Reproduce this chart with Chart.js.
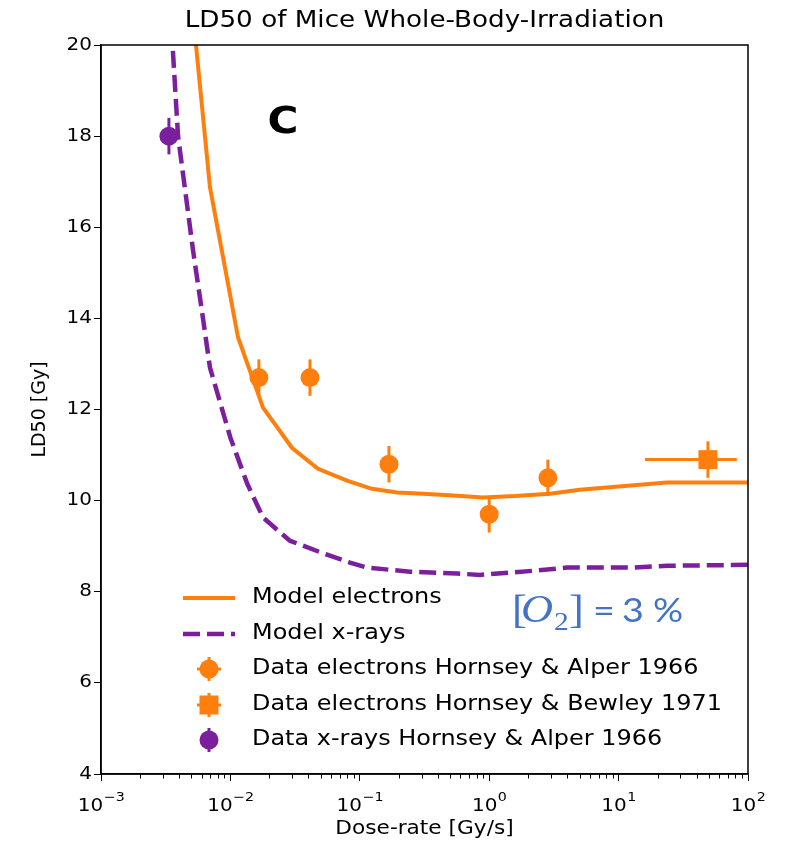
<!DOCTYPE html>
<html><head><meta charset="utf-8">
<script src="https://cdn.jsdelivr.net/npm/chart.js@4"></script>
<style>html,body{margin:0;padding:0;background:#fff;} #wrap{width:790px;height:843px;}</style>
</head><body><div id="wrap"><canvas id="c" width="790" height="843"></canvas></div>
<script>
// ---- data ----
const doseElectronModel = [0.00437, 0.00695, 0.01146, 0.01786, 0.0299, 0.0475, 0.0796, 0.124, 0.194, 0.308, 0.525, 0.895, 1.585, 2.95, 5.01, 14.6, 23.7, 100];
const ld50ElectronModel = [22.7, 16.88, 13.58, 12.04, 11.16, 10.70, 10.44, 10.26, 10.18, 10.15, 10.11, 10.07, 10.10, 10.15, 10.24, 10.35, 10.40, 10.40];
const doseXrayModel = [0.00316, 0.00394, 0.00514, 0.00614, 0.00695, 0.0100, 0.0135, 0.01786, 0.0288, 0.0525, 0.0839, 0.1138, 0.244, 0.564, 0.849, 2.18, 3.98, 12.9, 23.7, 100];
const ld50XrayModel = [22.5, 18.0, 15.5, 14.0, 12.92, 11.38, 10.37, 9.63, 9.12, 8.84, 8.64, 8.53, 8.44, 8.40, 8.37, 8.46, 8.53, 8.53, 8.57, 8.59];
const doseAlper = [0.0166, 0.0412, 0.168, 1.0, 2.84];
const ld50Alper = [12.7, 12.7, 10.8, 9.7, 10.5];
const yErrAlper = [0.4, 0.4, 0.4, 0.4, 0.4];
const doseBewley = [49];
const ld50Bewley = [10.9];
const yErrBewley = [0.4];
const xErrBewley = [33];
const doseXrayData = [0.00335];
const ld50XrayData = [18.0];
const yErrXrayData = [0.4];
const xTicks = [0.001, 0.01, 0.1, 1, 10, 100];
const xTickExponents = ['\u22123', '\u22122', '\u22121', '0', '1', '2'];
const yTicks = [4, 6, 8, 10, 12, 14, 16, 18, 20];
const legendLabels = ['Model electrons', 'Model x-rays', 'Data electrons Hornsey & Alper 1966', 'Data electrons Hornsey & Bewley 1971', 'Data x-rays Hornsey & Alper 1966'];
const titleText = 'LD50 of Mice Whole-Body-Irradiation';
const xTitleText = 'Dose-rate [Gy/s]';
const yTitleText = 'LD50 [Gy]';

const ORANGE = '#ff7f0e';
const PURPLE = '#7b1f9d';
const BLUE = '#4472c4';
const FONT = "'DejaVu Sans', sans-serif";
const SX = 1.14; // horizontal stretch of the reference's lettering

const pts = (xs, ys) => xs.map((x, i) => ({x: x, y: ys[i]}));

function sText(ctx, t, x, y, font, align, base, color) {
  ctx.save();
  ctx.font = font; ctx.textAlign = align || 'left'; ctx.textBaseline = base || 'alphabetic';
  ctx.fillStyle = color || '#000';
  ctx.translate(x, y); ctx.scale(SX, 1);
  ctx.fillText(t, 0, 0);
  ctx.restore();
}
function sWidth(ctx, t, font) { ctx.save(); ctx.font = font; const w = ctx.measureText(t).width * SX; ctx.restore(); return w; }

const errorBars = {
  id: 'errorBars',
  afterDatasetsDraw(chart) {
    const {ctx, chartArea: a, scales: {x, y}} = chart;
    ctx.save();
    ctx.beginPath(); ctx.rect(a.left, a.top, a.width, a.height); ctx.clip();
    chart.data.datasets.forEach(ds => {
      if (!ds.errY && !ds.errX) return;
      ctx.strokeStyle = ds.borderColor; ctx.lineWidth = 3;
      ds.data.forEach((p, i) => {
        const px = x.getPixelForValue(p.x), py = y.getPixelForValue(p.y);
        if (ds.errY) {
          ctx.beginPath();
          ctx.moveTo(px, y.getPixelForValue(p.y - ds.errY[i]));
          ctx.lineTo(px, y.getPixelForValue(p.y + ds.errY[i]));
          ctx.stroke();
        }
        if (ds.errX) {
          ctx.beginPath();
          ctx.moveTo(x.getPixelForValue(p.x - ds.errX[i]), py);
          ctx.lineTo(x.getPixelForValue(p.x + ds.errX[i]), py);
          ctx.stroke();
        }
      });
    });
    ctx.restore();
  }
};

const decorations = {
  id: 'decorations',
  afterDraw(chart) {
    const {ctx, chartArea: a, scales: {x, y}} = chart;
    ctx.save();
    // frame
    ctx.strokeStyle = '#000'; ctx.lineWidth = 1.5;
    ctx.strokeRect(a.left, a.top, a.width, a.height);
    // minor ticks
    ctx.lineWidth = 1;
    for (let k = -3; k < 2; k++) {
      for (let m = 2; m <= 9; m++) {
        const px = Math.round(x.getPixelForValue(m * Math.pow(10, k))) + 0.5;
        ctx.beginPath(); ctx.moveTo(px, a.bottom); ctx.lineTo(px, a.bottom + 4.5); ctx.stroke();
      }
    }
    // tick labels
    const fTick = '17.5px ' + FONT, fSup = '12.5px ' + FONT;
    yTicks.forEach(v => sText(ctx, String(v), 92, y.getPixelForValue(v), fTick, 'right', 'middle'));
    xTicks.forEach((v, i) => {
      const w1 = sWidth(ctx, '10', fTick), w2 = sWidth(ctx, xTickExponents[i], fSup);
      const x0 = x.getPixelForValue(v) - (w1 + w2) / 2;
      sText(ctx, '10', x0, 811, fTick);
      sText(ctx, xTickExponents[i], x0 + w1 + 0.5, 801, fSup);
    });
    // title and axis titles
    sText(ctx, titleText, (a.left + a.right) / 2, 21, '23px ' + FONT, 'center', 'middle');
    sText(ctx, xTitleText, (a.left + a.right) / 2, 829, '19px ' + FONT, 'center', 'middle');
    ctx.save();
    ctx.translate(40, (a.top + a.bottom) / 2);
    ctx.rotate(-Math.PI / 2);
    ctx.font = '19px ' + FONT; ctx.textAlign = 'center'; ctx.textBaseline = 'middle'; ctx.fillStyle = '#000';
    ctx.fillText(yTitleText, 0, 0);
    ctx.restore();
    // panel letter
    sText(ctx, 'C', 283, 123, 'bold 37px ' + FONT, 'center', 'middle');
    // oxygen annotation
    const serif = "'Liberation Serif', serif";
    sText(ctx, '[', 512, 623, '39px ' + serif, 'left', 'alphabetic', BLUE);
    sText(ctx, 'O', 521, 622, 'italic 39px ' + serif, 'left', 'alphabetic', BLUE);
    sText(ctx, '2', 554, 630, '26px ' + serif, 'left', 'alphabetic', BLUE);
    sText(ctx, ']', 569, 623, '39px ' + serif, 'left', 'alphabetic', BLUE);
    sText(ctx, '=', 593, 622, '33px Lato, sans-serif', 'left', 'alphabetic', BLUE);
    sText(ctx, '3', 622, 622, '33px Lato, sans-serif', 'left', 'alphabetic', BLUE);
    sText(ctx, '%', 653, 622, '33px Lato, sans-serif', 'left', 'alphabetic', BLUE);
    // legend
    const rows = [598, 634, 669, 705, 740];
    const lx0 = 183, lx1 = 235, mx = 209, textX = 252;
    legendLabels.forEach((t, i) => sText(ctx, t, textX, rows[i], '21px ' + FONT, 'left', 'middle'));
    ctx.lineCap = 'butt';
    ctx.strokeStyle = ORANGE; ctx.lineWidth = 4;
    ctx.beginPath(); ctx.moveTo(lx0, rows[0]); ctx.lineTo(lx1, rows[0]); ctx.stroke();
    ctx.strokeStyle = PURPLE; ctx.lineWidth = 4.5; ctx.setLineDash([17, 7]);
    ctx.beginPath(); ctx.moveTo(lx0, rows[1]); ctx.lineTo(lx1, rows[1]); ctx.stroke();
    ctx.setLineDash([]);
    const bars = (cx, cy, col, both) => {
      ctx.strokeStyle = col; ctx.lineWidth = 3;
      ctx.beginPath(); ctx.moveTo(cx, cy - 12); ctx.lineTo(cx, cy + 12); ctx.stroke();
      if (both) { ctx.beginPath(); ctx.moveTo(cx - 12, cy); ctx.lineTo(cx + 12, cy); ctx.stroke(); }
    };
    bars(mx, rows[2], ORANGE, true);
    ctx.fillStyle = ORANGE; ctx.beginPath(); ctx.arc(mx, rows[2], 9.5, 0, Math.PI * 2); ctx.fill();
    bars(mx, rows[3], ORANGE, true);
    ctx.fillRect(mx - 9.5, rows[3] - 9.5, 19, 19);
    bars(mx, rows[4], PURPLE, false);
    ctx.fillStyle = PURPLE; ctx.beginPath(); ctx.arc(mx, rows[4], 9.5, 0, Math.PI * 2); ctx.fill();
    ctx.restore();
  }
};

new Chart(document.getElementById('c'), {
  data: {
    datasets: [
      {type: 'scatter', label: legendLabels[2], data: pts(doseAlper, ld50Alper), errY: yErrAlper,
       backgroundColor: ORANGE, borderColor: ORANGE, pointRadius: 9.5, pointHoverRadius: 9.5, pointStyle: 'circle', borderWidth: 0, order: 0},
      {type: 'scatter', label: legendLabels[3], data: pts(doseBewley, ld50Bewley), errY: yErrBewley, errX: xErrBewley,
       backgroundColor: ORANGE, borderColor: ORANGE, pointRadius: 13.4, pointHoverRadius: 13.4, pointStyle: 'rect', borderWidth: 0, order: 0},
      {type: 'scatter', label: legendLabels[4], data: pts(doseXrayData, ld50XrayData), errY: yErrXrayData,
       backgroundColor: PURPLE, borderColor: PURPLE, pointRadius: 9.5, pointHoverRadius: 9.5, pointStyle: 'circle', borderWidth: 0, order: 0},
      {type: 'line', label: legendLabels[0], data: pts(doseElectronModel, ld50ElectronModel),
       borderColor: ORANGE, borderWidth: 4, pointRadius: 0, tension: 0, fill: false, clip: 0, order: 1},
      {type: 'line', label: legendLabels[1], data: pts(doseXrayModel, ld50XrayModel),
       borderColor: PURPLE, borderWidth: 4.5, borderDash: [17, 7], pointRadius: 0, tension: 0, fill: false, clip: 0, order: 2}
    ]
  },
  options: {
    responsive: false, animation: false, devicePixelRatio: 1,
    layout: {padding: {top: 45, right: 42, left: 0, bottom: 0}},
    plugins: {legend: {display: false}, tooltip: {enabled: false}, title: {display: false}},
    events: [],
    scales: {
      x: {
        type: 'logarithmic', min: 0.001, max: 100, position: 'bottom',
        afterBuildTicks: s => { s.ticks = xTicks.map(v => ({value: v, major: true})); },
        afterFit: s => { s.height = 69; },
        ticks: {display: false},
        grid: {display: true, drawOnChartArea: false, drawTicks: true, tickLength: 7, color: '#000', lineWidth: 1},
        border: {display: true, color: '#000', width: 1.5}
      },
      y: {
        type: 'linear', min: 4, max: 20, position: 'left',
        afterBuildTicks: s => { s.ticks = yTicks.map(v => ({value: v})); },
        afterFit: s => { s.width = 101; },
        ticks: {display: false},
        grid: {display: true, drawOnChartArea: false, drawTicks: true, tickLength: 7, color: '#000', lineWidth: 1},
        border: {display: true, color: '#000', width: 1.5}
      }
    }
  },
  plugins: [errorBars, decorations]
});
</script></body></html>
